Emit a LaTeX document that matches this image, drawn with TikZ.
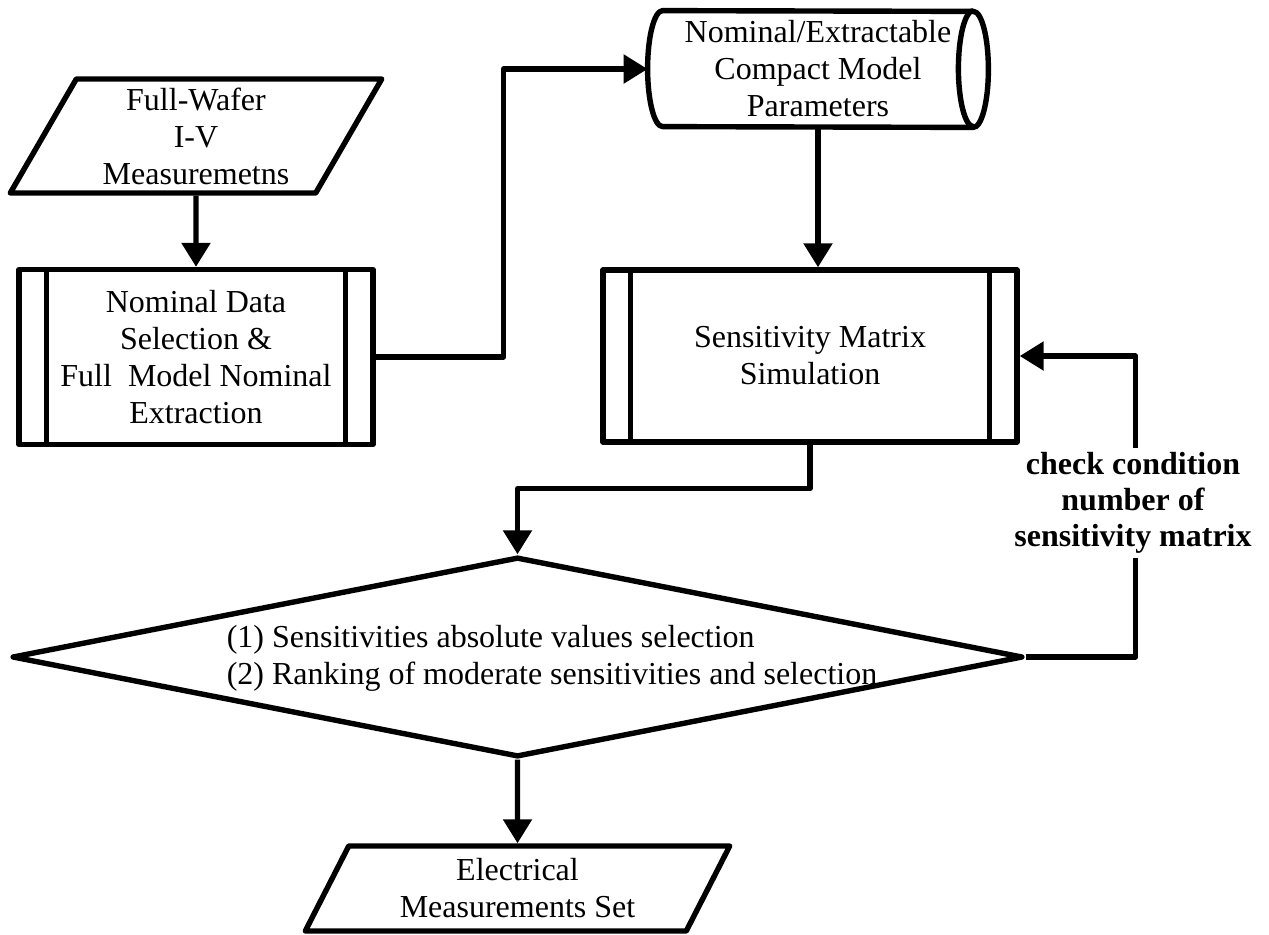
\documentclass[tikz,border=0pt]{standalone}
\usepackage{fontspec}
\setmainfont{Liberation Serif}
\usetikzlibrary{shapes.geometric,arrows.meta,calc}

\begin{document}
\begin{tikzpicture}[x=0.5pt, y=-0.5pt, line join=round,
    font=\fontsize{16}{18.5}\selectfont,
    shape line/.style={draw, line width=2.7pt, align=center, inner sep=0pt},
    io/.style={shape line, trapezium, trapezium stretches=true},
    subproc/.style={shape line, rectangle},
    store/.style={align=center, inner sep=0pt},
    decision/.style={shape line, diamond},
    flow/.style={line width=2.7pt, -{Triangle[length=12pt,width=14pt]}},
    note/.style={fill=white, align=center, font=\fontsize{16}{18}\selectfont\bfseries, inner sep=2pt}]

\useasboundingbox (0,0) rectangle (1269,934);

% nodes
\node[io, trapezium left angle=62, trapezium right angle=118, minimum width=186pt, minimum height=57pt] (wafer) at (196,136) {Full-Wafer\\I-V\\Measuremetns};
\node[subproc, minimum width=177pt, minimum height=87.5pt] (prep) at (196,357) {Nominal Data\\Selection \&\\Full\ \ Model Nominal\\Extraction};
\node[store, minimum width=170pt, minimum height=58pt] (params) at (818,69) {Nominal/Extractable\\Compact Model\\Parameters};
\node[subproc, minimum width=207pt, minimum height=86pt] (simu) at (810,356) {Sensitivity Matrix\\Simulation};
\node[decision, minimum width=505.5pt, minimum height=100pt] (check) at (517.5,657) {};
\node[align=left] (crit) at (552,658) {(1) Sensitivities absolute values selection\\(2) Ranking of moderate sensitivities and selection};
\node[io, trapezium left angle=63, trapezium right angle=117, minimum width=212.5pt, minimum height=42.5pt] (elec) at (517.5,888.5) {Electrical\\Measurements Set};

% stored data drum
\draw[line width=2.7pt] ([xshift=7.5pt]params.north west)
    arc[start angle=90, end angle=270, x radius=7.5pt, y radius=29pt]
    -- ([xshift=-7.5pt]params.south east)
    arc[start angle=-90, end angle=90, x radius=7.5pt, y radius=29pt] -- cycle;
\draw[line width=2.7pt] ([xshift=-7.5pt]params.north east)
    arc[start angle=90, end angle=270, x radius=7.5pt, y radius=29pt];

% side bars of the predefined processes
\foreach \n in {prep,simu} {
  \draw[line width=2.7pt] ([xshift=15pt]\n.north west) -- ([xshift=15pt]\n.south west)
    ([xshift=-15pt]\n.north east) -- ([xshift=-15pt]\n.south east);
}

% connectors
\draw[flow] (wafer.south) -- (prep.north);
\draw[flow] (prep.east) -- ++(128,0) |- (params.west);
\draw[flow] (params.south) -- (params.south |- simu.north);
\draw[flow] (simu.south) -- ++(0,44) -| (check.north);
\draw[flow] (check.east) -| ($(simu.east)+(116,0)$) -- (simu.east);
\node[note] (cond) at (1133,503) {check condition\\number of\\sensitivity matrix};
\draw[flow] (check.south) -- (elec.north);

\end{tikzpicture}
\end{document}
